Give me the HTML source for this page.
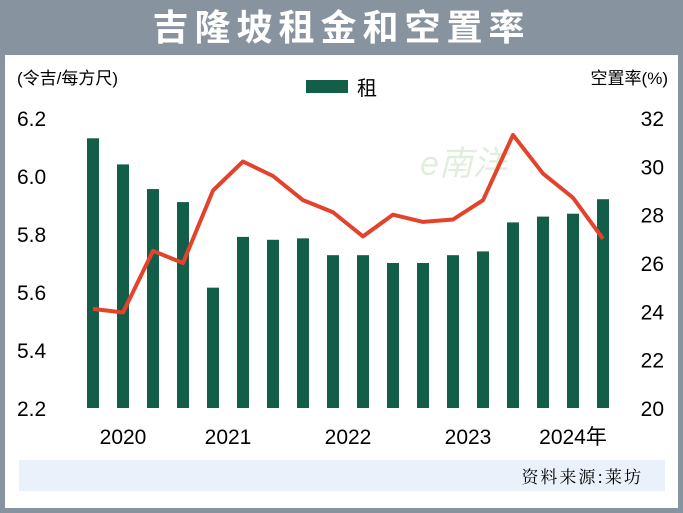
<!DOCTYPE html>
<html><head><meta charset="utf-8"><style>
body{margin:0;width:683px;height:513px;background:#87949f;font-family:"Liberation Sans","Noto Sans CJK SC",sans-serif;overflow:hidden;position:relative}
#title{position:absolute;left:0;top:0;width:683px;height:55px;text-align:center;line-height:55px;color:#fff;font-size:36px;font-weight:bold;letter-spacing:6px}
#panel{position:absolute;left:5px;top:55px;width:673px;height:453px;background:#fff}
#src{position:absolute;left:19px;top:460px;width:646px;height:31px;background:#eaf1fa;font-family:"Noto Serif CJK SC",serif;font-size:17px;text-align:right;line-height:31px;box-sizing:border-box;padding-right:22px;letter-spacing:2px}
svg{position:absolute;left:0;top:0}
</style></head><body>
<div id="title">吉隆坡租金和空置率</div>
<div id="panel"></div>
<div id="src">资料来源:莱坊</div>
<svg id="chart" width="683" height="513">
<text x="17" y="84" font-size="17">(令吉/每方尺)</text>
<text x="668" y="84" font-size="17" text-anchor="end">空置率(%)</text>
<rect x="306" y="80" width="42" height="13" fill="#135e48"/>
<text x="357" y="95" font-size="20">租</text>
<text x="420" y="175" font-size="34" fill="#cfe3c8" font-style="italic" opacity="0.6">e南洋</text>
</svg>
<script>
const periods=["2020Q1","2020Q2","2020Q3","2020Q4","2021Q1","2021Q2","2021Q3","2021Q4","2022Q1","2022Q2","2022Q3","2022Q4","2023Q1","2023Q2","2023Q3","2023Q4","2024Q1","2024Q2"];
const rents=[6.13,6.04,5.955,5.91,5.615,5.79,5.78,5.785,5.727,5.727,5.70,5.70,5.727,5.74,5.84,5.86,5.87,5.92];
const vacancy=[24.1,23.95,26.5,26.0,29.0,30.2,29.6,28.6,28.1,27.1,28.0,27.7,27.8,28.6,31.3,29.7,28.7,27.0];
const leftTicks=["6.2","6.0","5.8","5.6","5.4","2.2"];
const rightTicks=["32","30","28","26","24","22","20"];
const years=["2020","2021","2022","2023","2024年"];
const yearPos=[1.0,4.5,8.5,12.5,16];
const svg=document.getElementById('chart');const NS="http://www.w3.org/2000/svg";
function xS(i){return 93+i*30;}
function yL(v){return 118+(6.2-v)*290;}
function yR(v){return 118+(32-v)*(290/12);}
const base=408;
function mk(t,a){const e=document.createElementNS(NS,t);for(const k in a)e.setAttribute(k,a[k]);svg.appendChild(e);return e;}
leftTicks.forEach((t,i)=>{const e=mk('text',{x:17,y:118+i*58+8,'font-size':21});e.textContent=t;

});
rightTicks.forEach((t,i)=>{const e=mk('text',{x:664,y:118+i*(290/6)+8,'font-size':21,'text-anchor':'end'});e.textContent=t;

});
rents.forEach((v,i)=>{const y=yL(v);const r=mk('rect',{x:xS(i)-6,y:y,width:12,height:base-y,fill:'#135e48'});

});
const pts=vacancy.map((v,i)=>xS(i)+','+yR(v)).join(' ');
const pl=mk('polyline',{points:pts,fill:'none',stroke:'#e3432b','stroke-width':4,'stroke-linejoin':'round'});


years.forEach((t,i)=>{const e=mk('text',{x:xS(yearPos[i]),y:444,'font-size':21,'text-anchor':'middle'});e.textContent=t;

});
</script>
</body></html>
